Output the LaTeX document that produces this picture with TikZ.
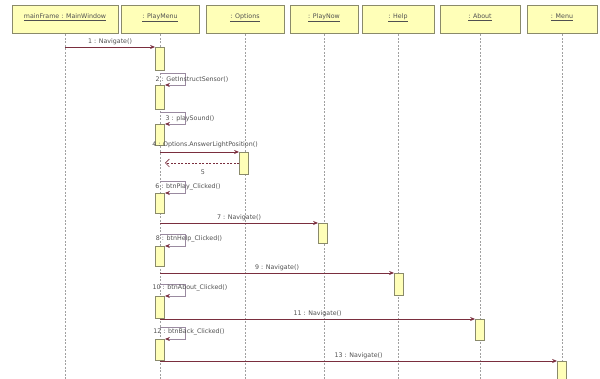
\documentclass[tikz,border=0pt]{standalone}
\usepackage{fontspec}
\setmainfont{DejaVu Sans}
\usetikzlibrary{arrows.meta}
\definecolor{boxfill}{HTML}{FFFFB8}
\definecolor{boxline}{HTML}{8A8A6A}
\definecolor{msgcol}{HTML}{7A2E3E}
\definecolor{loopcol}{HTML}{9A8AA0}
\definecolor{lifecol}{HTML}{A0A0A0}
\definecolor{txtcol}{HTML}{505050}
\begin{document}
\begin{tikzpicture}[x=1pt,y=-1pt,
 hdr/.style={draw=boxline,fill=boxfill,line width=1pt,minimum height=28pt,inner sep=1pt,
   text height=5pt,text depth=8pt,text=txtcol,font=\fontsize{6.3}{7}\selectfont},
 act/.style={draw=boxline,fill=boxfill,line width=0.8pt,minimum width=9pt,inner sep=0pt,anchor=north},
 life/.style={draw=lifecol,line width=0.5pt,dash pattern=on 2pt off 1.5pt},
 msg/.style={draw=msgcol,line width=0.7pt,-{Stealth[length=5pt,width=4pt]}},
 selfmsg/.style={draw=loopcol,line width=0.6pt,-{Stealth[length=5pt,width=4pt,color=msgcol]}},
 ret/.style={draw=msgcol,line width=0.6pt,dash pattern=on 2pt off 1.5pt,-{Straight Barb[length=4pt]}},
 lbl/.style={font=\fontsize{6.3}{7}\selectfont,inner sep=0.5pt,text=txtcol}
]
\useasboundingbox (0,0) rectangle (600,379);
\coordinate (bot) at (0,379);
% headers
\node[hdr,minimum width=106pt] (mf) at (65,20) {\underline{mainFrame : MainWindow}};
\node[hdr,minimum width=78pt] (pm) at (160,20) {\underline{: PlayMenu}};
\node[hdr,minimum width=78pt] (op) at (245,20) {\underline{: Options}};
\node[hdr,minimum width=68pt] (pn) at (324,20) {\underline{: PlayNow}};
\node[hdr,minimum width=72pt] (hp) at (398,20) {\underline{: Help}};
\node[hdr,minimum width=80pt] (ab) at (480,20) {\underline{: About}};
\node[hdr,minimum width=70pt] (mn) at (562,20) {\underline{: Menu}};
% lifelines
\foreach \n in {mf,pm,op,pn,hp,ab,mn}{\draw[life] (\n.south) -- (\n.south |- bot);}
% activations
\node[act,minimum height=23pt] (a1) at (160,47) {};
\node[act,minimum height=24pt] (a2) at (160,85) {};
\node[act,minimum height=21pt] (a3) at (160,124) {};
\node[act,minimum height=22pt] (a4) at (244,152) {};
\node[act,minimum height=20pt] (a6) at (160,193) {};
\node[act,minimum height=20pt] (a7) at (323,223) {};
\node[act,minimum height=20pt] (a8) at (160,246) {};
\node[act,minimum height=22pt] (a9) at (399,273) {};
\node[act,minimum height=22pt] (a10) at (160,296) {};
\node[act,minimum height=21pt] (a11) at (480,319) {};
\node[act,minimum height=21pt] (a12) at (160,339) {};
\node[act,minimum height=20pt] (a13) at (562,361) {};
% messages
\draw[msg] (mf |- a1.north) -- node[lbl,above=1pt] {1 : Navigate()} (a1.north west);
\draw[selfmsg] (pm |- 0,73) -- ++(25,0) |- (a2.north east);
\node[lbl] (l2) at (192,80) {2 : GetInstructSensor()};
\draw[selfmsg] (pm |- 0,112) -- ++(25,0) |- (a3.north east);
\node[lbl] (l3) at (190,119) {3 : playSound()};
\draw[msg] (pm |- a4.north) -- (a4.north west);
\node[lbl] (l4) at (205,145) {4 : Options.AnswerLightPosition()};
\draw[ret] (a4.west |- 0,163) -- (165,163) coordinate (r5);
\node[lbl] (l5) at (203,172) {5};
\draw[selfmsg] (pm |- 0,181) -- ++(25,0) |- (a6.north east);
\node[lbl] (l6) at (188,187) {6 : btnPlay\_Clicked()};
\draw[msg] (pm |- a7.north) -- node[lbl,above=1pt] {7 : Navigate()} (a7.north west);
\draw[selfmsg] (pm |- 0,234) -- ++(25,0) |- (a8.north east);
\node[lbl] (l8) at (189,239) {8 : btnHelp\_Clicked()};
\draw[msg] (pm |- a9.north) -- node[lbl,above=1pt] {9 : Navigate()} (a9.north west);
\draw[selfmsg] (pm |- 0,284) -- ++(25,0) |- (a10.north east);
\node[lbl] (l10) at (190,288) {10 : btnAbout\_Clicked()};
\draw[msg] (pm |- a11.north) -- node[lbl,above=1pt] {11 : Navigate()} (a11.north west);
\draw[selfmsg] (pm |- 0,327) -- ++(25,0) |- (a12.north east);
\node[lbl] (l12) at (189,332) {12 : btnBack\_Clicked()};
\draw[msg] (pm |- a13.north) -- node[lbl,above=1pt] {13 : Navigate()} (a13.north west);
\end{tikzpicture}
\end{document}
